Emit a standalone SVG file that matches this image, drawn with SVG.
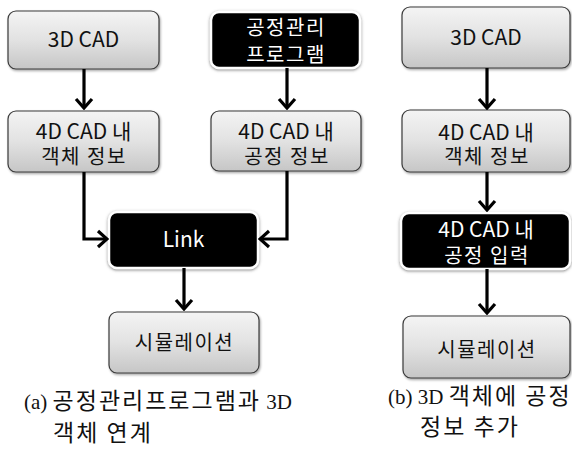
<svg xmlns="http://www.w3.org/2000/svg" width="572" height="456" viewBox="0 0 572 456">
  <defs>
    <linearGradient id="grayFill" x1="0" y1="0" x2="0" y2="1">
      <stop offset="0" stop-color="#f4f4f4"/>
      <stop offset="0.5" stop-color="#e2e2e2"/>
      <stop offset="1" stop-color="#c6c6c6"/>
    </linearGradient>
    <filter id="softShadow" x="-10%" y="-10%" width="120%" height="130%">
      <feDropShadow dx="1" dy="1.5" stdDeviation="1" flood-color="#000" flood-opacity="0.35"/>
    </filter>
    <filter id="halo" x="-10%" y="-15%" width="120%" height="135%">
      <feDropShadow dx="0" dy="1" stdDeviation="1.6" flood-color="#666" flood-opacity="0.8"/>
    </filter>
    <marker id="chevron" viewBox="-12 -10 14 20" refX="0" refY="0" markerWidth="14" markerHeight="20" markerUnits="userSpaceOnUse" orient="auto">
      <path d="M-9,-8 L0,0 L-9,8" fill="none" stroke="#000" stroke-width="3.2"/>
    </marker>
  </defs>
  <style>
    .box { fill: url(#grayFill); stroke: #3a3a3a; stroke-width: 1.2; filter: url(#softShadow); }
    .dark { fill: #000; stroke: #fff; stroke-width: 2.5; filter: url(#halo); }
    .lbl { font-family: "Noto Sans CJK KR", "Noto Sans", sans-serif; font-size: 20px; text-anchor: middle; fill: #111; }
    .lblw { font-family: "Noto Sans CJK KR", "Noto Sans", sans-serif; font-size: 20px; text-anchor: middle; fill: #fff; }
    .lat { font-size: 21px; letter-spacing: 0; }
    .ko { letter-spacing: 1.5px; }
    .cap { font-family: "Noto Sans CJK KR", sans-serif; font-size: 23px; letter-spacing: 2px; fill: #111; }
    .capl { font-family: "Liberation Serif", serif; font-size: 21px; letter-spacing: 0; }
    .wire { fill: none; stroke: #000; stroke-width: 3.2; marker-end: url(#chevron); }
  </style>

  <!-- (a) program / 3D object linking -->
  <g id="a-3dcad">
    <rect class="box" x="8" y="11" width="151" height="58" rx="8"/>
    <text class="lbl lat" x="83.5" y="47">3D CAD</text>
  </g>
  <g id="a-object-info">
    <rect class="box" x="8" y="111" width="151" height="61" rx="8"/>
    <text class="lbl"><tspan class="lat" x="83.5" y="139">4D CAD 내</tspan><tspan class="ko" x="84" y="164">객체 정보</tspan></text>
  </g>
  <g id="a-schedule-program">
    <rect class="dark" x="211" y="12" width="149" height="56" rx="8"/>
    <text class="lblw ko"><tspan x="286" y="35">공정관리</tspan><tspan x="286" y="62">프로그램</tspan></text>
  </g>
  <g id="a-schedule-info">
    <rect class="box" x="211" y="111" width="150" height="60" rx="8"/>
    <text class="lbl"><tspan class="lat" x="286" y="139">4D CAD 내</tspan><tspan class="ko" x="287" y="164">공정 정보</tspan></text>
  </g>
  <g id="a-link">
    <rect class="dark" x="109" y="212" width="149" height="56" rx="8"/>
    <text class="lblw lat" x="183.5" y="247">Link</text>
  </g>
  <g id="a-simulation">
    <rect class="box" x="109" y="312" width="150" height="61" rx="8"/>
    <text class="lbl ko" x="184.5" y="350">시뮬레이션</text>
  </g>

  <!-- (b) schedule added to 3D objects -->
  <g id="b-3dcad">
    <rect class="box" x="402" y="7" width="168" height="61" rx="8"/>
    <text class="lbl lat" x="486" y="45">3D CAD</text>
  </g>
  <g id="b-object-info">
    <rect class="box" x="402" y="110" width="168" height="62" rx="8"/>
    <text class="lbl"><tspan class="lat" x="486" y="140">4D CAD 내</tspan><tspan class="ko" x="487" y="164">객체 정보</tspan></text>
  </g>
  <g id="b-schedule-input">
    <rect class="dark" x="401" y="213" width="169" height="56" rx="8"/>
    <text class="lblw"><tspan class="lat" x="486" y="237">4D CAD 내</tspan><tspan class="ko" x="487" y="263">공정 입력</tspan></text>
  </g>
  <g id="b-simulation">
    <rect class="box" x="403" y="316" width="167" height="62" rx="8"/>
    <text class="lbl ko" x="487" y="357">시뮬레이션</text>
  </g>

  <g id="connectors">
    <path class="wire" d="M84,69 V108"/>
    <path class="wire" d="M287,68 V108"/>
    <path class="wire" d="M84,172 V239 H107"/>
    <path class="wire" d="M287,171 V239 H260"/>
    <path class="wire" d="M184,268 V309"/>
    <path class="wire" d="M487,68 V108"/>
    <path class="wire" d="M487,172 V210"/>
    <path class="wire" d="M487,269 V313"/>
  </g>

  <g id="captions">
    <text class="cap"><tspan x="24" y="409" class="capl">(a) </tspan>공정관리프로그램과<tspan class="capl"> 3D</tspan><tspan x="53" y="441">객체 연계</tspan></text>
    <text class="cap"><tspan x="388" y="404" class="capl">(b) 3D </tspan>객체에 공정<tspan x="420" y="435">정보 추가</tspan></text>
  </g>
</svg>
